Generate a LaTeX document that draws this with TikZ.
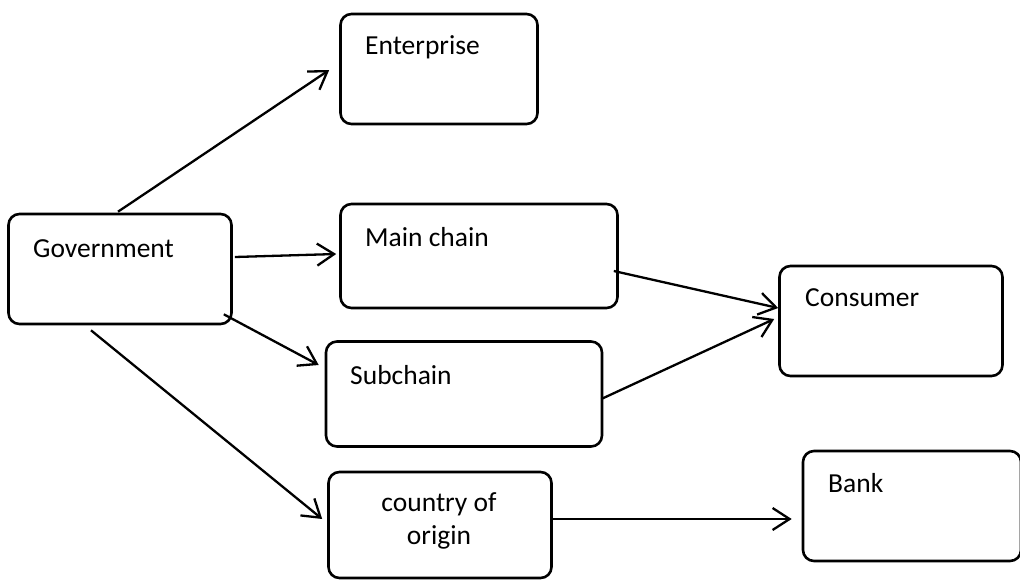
\documentclass[tikz,border=0pt]{standalone}
\usepackage{fontspec}
\setmainfont{Carlito}
\usetikzlibrary{arrows.meta,calc}
\begin{document}
\begin{tikzpicture}[x=1pt,y=-1pt,
  box/.style={draw=black,line width=2.6pt,rounded corners=11pt,fill=none,inner sep=0pt},
  lbl/.style={anchor=west,inner sep=0pt,font=\fontsize{27.5}{33}\selectfont},
  conn/.style={line width=2.3pt,-{Straight Barb[length=17pt,width=22pt,line width=2.3pt]}}]
\useasboundingbox (0,0) rectangle (1020,579);
\fill[white] (0,0) rectangle (1020,579);
\node[box,minimum width=197pt,minimum height=110pt] (ent) at (439,69) {};
\node[box,minimum width=223pt,minimum height=110pt] (gov) at (120,269) {};
\node[box,minimum width=277pt,minimum height=104pt] (main) at (479,256) {};
\node[box,minimum width=223pt,minimum height=110pt] (cons) at (891,321) {};
\node[box,minimum width=276pt,minimum height=105pt] (sub) at (464,394) {};
\node[box,minimum width=223pt,minimum height=106pt] (ctry) at (440,525) {};
\node[box,minimum width=218pt,minimum height=110pt] (bank) at (912,506) {};
\node[lbl] (tent) at (365,47) {Enterprise};
\node[lbl] (tgov) at (33,249) {Government};
\node[lbl] (tmain) at (365,237) {Main chain};
\node[lbl] (tcons) at (805,298) {Consumer};
\node[lbl] (tsub) at (350,375) {Subchain};
\node[lbl] (tbank) at (828,483) {Bank};
\node[inner sep=0pt,align=center,font=\fontsize{27.5}{33}\selectfont] (tctry) at (439,521) {country of\\origin};
\draw[conn] ($(gov.north)+(-2,-1)$) -- ($(ent.west)+(-10,1)$);
\draw[conn] ($(gov.east)+(2,-12)$) -- ($(main.west)+(-3,-2)$);
\draw[conn] ($(gov.south east)+(-9,-11)$) -- ($(sub.west)+(-6,-29)$);
\draw[conn] ($(gov.south)+(-29,5)$) -- ($(ctry.west)+(-5,-6)$);
\draw[conn] ($(main.east)+(-5,15)$) -- ($(cons.west)+(0,-13)$);
\draw[conn] ($(sub.east)+(-2,5)$) -- ($(cons.west)+(-4,-2)$);
\draw[conn] ($(ctry.east)+(0,-6)$) -- ($(bank.west)+(-10,13)$);
\end{tikzpicture}
\end{document}
